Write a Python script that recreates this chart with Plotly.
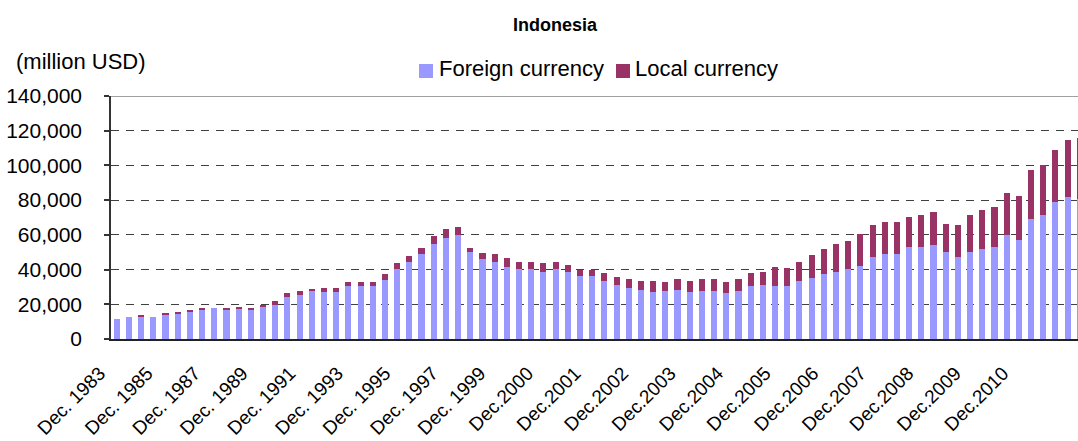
import plotly.graph_objects as go

# Periods: semi-annual Dec.1983 .. Dec.1999, then quarterly Mar.2000 .. Sep.2011
categories = (
    ["Dec. 1983"]
    + [f"{m}. {y}" for y in range(1984, 2000) for m in ("Jun", "Dec")]
    + [f"{m}.{y}" for y in range(2000, 2011) for m in ("Mar", "Jun", "Sep", "Dec")]
    + ["Mar.2011", "Jun.2011", "Sep.2011"]
)

foreign_currency = [
    11500, 12700, 12700, 12700, 13800, 14400, 15600, 16700, 17900, 16700, 17300, 16700, 18400,
    19600, 24200, 25400, 27700, 27100, 27100, 30500, 30500, 30500, 34000, 40300,
    44400, 49000, 54800, 58200, 59900, 50100, 46100, 44400, 41500,
    40300, 40300, 38600, 40300, 38600, 36300, 36300,
    33400, 31100, 29400, 28200, 27100, 27700, 28200, 27100, 27700, 27700, 26500, 27700, 30500,
    31100, 30500, 30500, 33400, 35200, 37500, 38600, 40300, 42100, 47300, 49000, 49000, 53000,
    53000, 54200, 50100, 47300, 50100, 51900, 53000, 59900, 57100, 69200, 71500, 79000, 81800, 80700,
]

local_currency = [
    0, 0, 1100, 0, 1200, 1200, 1100, 1200, 0, 1200, 1100, 1200, 1200,
    2300, 2300, 2300, 1100, 2300, 2300, 2400, 2400, 2400, 3500, 3500,
    3400, 3500, 4600, 5200, 4700, 2400, 3500, 4600, 5200,
    4100, 4100, 5200, 4100, 4100, 3500, 3500,
    4600, 4600, 5200, 5200, 6300, 5200, 6400, 6300, 6900, 6900, 6400, 6900, 7500,
    7500, 11000, 10400, 11000, 13200, 14400, 16200, 16200, 18400, 18400, 18400, 18400, 17300,
    18500, 19000, 16200, 18400, 21400, 22500, 23100, 24300, 25300, 28200, 28800, 29900, 32900, 35200,
]

series_names = ["Foreign currency", "Local currency"]
series_colors = ["#9999FF", "#993366"]

y_ticks = [0, 20000, 40000, 60000, 80000, 100000, 120000, 140000]
y_tick_labels = ["0", "20,000", "40,000", "60,000", "80,000", "100,000", "120,000", "140,000"]
x_tick_labels = [
    "Dec. 1983", "Dec. 1985", "Dec. 1987", "Dec. 1989", "Dec. 1991", "Dec. 1993",
    "Dec. 1995", "Dec. 1997", "Dec. 1999", "Dec.2000", "Dec.2001", "Dec.2002",
    "Dec.2003", "Dec.2004", "Dec.2005", "Dec.2006", "Dec.2007", "Dec.2008",
    "Dec.2009", "Dec.2010",
]
LABEL_STEP = 3.9  # label spacing on the category axis, as laid out in the source chart

FONT = "Arial, Liberation Sans, sans-serif"
W, H = 1078, 441
L, R, T, B = 111, 0, 96, 102
PW, PH = W - L - R, H - T - B


def px_x(x):
    return (x - L) / PW


def px_y(y):
    return (H - B - y) / PH


fig = go.Figure()
fig.add_trace(go.Bar(x=categories, y=foreign_currency, name=series_names[0],
                     marker=dict(color=series_colors[0], line=dict(width=0)), showlegend=False))
fig.add_trace(go.Bar(x=categories, y=local_currency, name=series_names[1],
                     marker=dict(color=series_colors[1], line=dict(width=0)), showlegend=False))

fig.update_layout(
    barmode="stack",
    bargap=0.5,
    width=W, height=H,
    margin=dict(l=L, r=R, t=T, b=B, autoexpand=False),
    paper_bgcolor="white", plot_bgcolor="white",
    font=dict(family=FONT, color="black", size=20),
    title=dict(text="<b>Indonesia</b>", x=555/W, xanchor="center",
               y=1 - 25/H, yanchor="middle", font=dict(size=18, family=FONT)),
    xaxis=dict(
        type="category",
        automargin=False,
        range=[-0.47, 78.85],
        tickmode="array",
        tickvals=[k * LABEL_STEP for k in range(len(x_tick_labels))],
        ticktext=x_tick_labels,
        tickangle=-45,
        tickfont=dict(size=19),
        ticks="outside", ticklen=0,
        ticklabelstandoff=14,
        ticklabelshift=-17,
        showgrid=False,
        showline=True, linecolor="#222222", linewidth=1.5,
        zeroline=False,
    ),
    yaxis=dict(
        automargin=False,
        range=[0, 140000],
        tickmode="array", tickvals=y_ticks, ticktext=y_tick_labels,
        tickfont=dict(size=21),
        ticks="outside", ticklen=5, tickcolor="#333333", tickwidth=1.5,
        ticklabelstandoff=18,
        showgrid=True, gridcolor="#404040", gridwidth=1, griddash="8px,7px",
        showline=True, linecolor="#333333", linewidth=1.5,
        zeroline=False,
    ),
)

# solid light-grey frame line at the top of the plot area
fig.add_shape(type="line", xref="paper", yref="y", x0=0, x1=1, y0=140000, y1=140000,
              line=dict(color="#A0A0A0", width=2), layer="above")

fig.add_annotation(text="(million USD)", xref="paper", yref="paper",
                   x=px_x(14), xanchor="left", y=px_y(61), yanchor="middle",
                   showarrow=False, font=dict(size=22, family=FONT))

# legend (square key + label)
legend_keys = [(419, 439), (616, 635)]
for (kx, tx), name, col in zip(legend_keys, series_names, series_colors):
    fig.add_shape(type="rect", xref="paper", yref="paper",
                  x0=px_x(kx), x1=px_x(kx + 14), y0=px_y(78), y1=px_y(64),
                  fillcolor=col, line=dict(width=0), layer="above")
    fig.add_annotation(text=name, xref="paper", yref="paper",
                       x=px_x(tx - 2), xanchor="left", y=px_y(68), yanchor="middle",
                       showarrow=False, font=dict(size=22, family=FONT))

fig.write_html(
    "out.html",
    config={"displayModeBar": False},
    post_script="document.body.style.margin='0';document.body.style.overflow='hidden';",
)
